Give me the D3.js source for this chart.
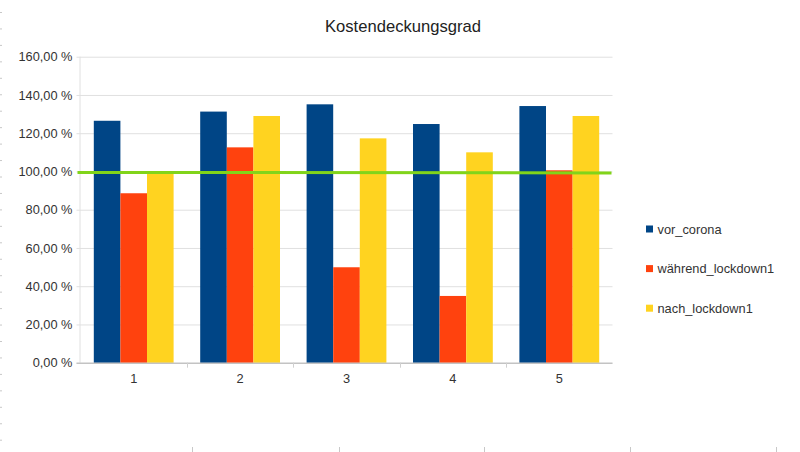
<!DOCTYPE html>
<html>
<head>
<meta charset="utf-8">
<script src="https://cdn.jsdelivr.net/npm/d3@7"></script>
<style>
  html, body { margin: 0; padding: 0; background: #ffffff; }
  svg { display: block; font-family: "Liberation Sans", Arial, sans-serif; }
</style>
</head>
<body>
<svg id="chart" width="800" height="452"></svg>
<script>
const categories = ["1", "2", "3", "4", "5"];
const seriesNames = ["vor_corona", "während_lockdown1", "nach_lockdown1"];
const vorCorona = [126.5, 131.3, 135.1, 124.8, 134.2];
const waehrendLockdown1 = [88.6, 112.6, 49.9, 34.9, 100.6];
const nachLockdown1 = [99.0, 129.0, 117.3, 110.0, 129.0];
const referenceLine = [99.5, 99.2]; // green line, start and end value
const yTicks = [0, 20, 40, 60, 80, 100, 120, 140, 160];
const title = "Kostendeckungsgrad";
const colors = ["#004586", "#ff420e", "#ffd320"];
const lineColor = "#81d41a";

const seriesValues = [vorCorona, waehrendLockdown1, nachLockdown1];
const FS = 12.8;

const svg = d3.select("#chart");
const plot = { left: 80.5, right: 612.5, top: 56.7, bottom: 362.7 };

const x = d3.scaleBand().domain(categories).range([plot.left, plot.right]).paddingInner(0.25).paddingOuter(0.125);
const xCat = d3.scaleBand().domain(categories).range([plot.left, plot.right]);
const xs = d3.scaleBand().domain(seriesNames).range([0, x.bandwidth()]);
const y = d3.scaleLinear().domain([0, 160]).range([plot.bottom, plot.top]);

// faint sheet marks at the left edge and bottom
const leftMarks = d3.range(0, 27).map(k => 12.5 + 16.45 * k);
svg.append("g").selectAll("line").data(leftMarks).join("line")
  .attr("x1", 0).attr("x2", 2).attr("y1", d => d).attr("y2", d => d)
  .attr("stroke", "#c8c8c8").attr("stroke-width", 1);
const bottomMarks = [192.5, 339.5, 484.5, 630.5, 776.5];
svg.append("g").selectAll("line").data(bottomMarks).join("line")
  .attr("x1", d => d).attr("x2", d => d).attr("y1", 447).attr("y2", 452)
  .attr("stroke", "#c8c8c8").attr("stroke-width", 1);

// title
svg.append("text").attr("x", 403).attr("y", 32).attr("text-anchor", "middle")
  .attr("font-size", 16.6).attr("fill", "#222").text(title);

// gridlines + y axis
const yAxis = d3.axisLeft(y).tickValues(yTicks).tickSize(plot.right - plot.left + 4)
  .tickFormat(d => d3.format(".2f")(d).replace(".", ",") + " %");
const gy = svg.append("g").attr("transform", `translate(${plot.right},0)`).call(yAxis);
gy.select(".domain").remove();
gy.selectAll(".tick line").attr("stroke", "#e0e0e0");
gy.selectAll(".tick text").attr("x", -(plot.right - plot.left + 8)).attr("font-size", FS)
  .attr("fill", "#333").attr("font-family", "Liberation Sans, Arial, sans-serif");

// left axis line
svg.append("line").attr("x1", plot.left - 0.5).attr("x2", plot.left - 0.5)
  .attr("y1", plot.top).attr("y2", plot.bottom).attr("stroke", "#e0e0e0");

// bars
const groups = svg.append("g").selectAll("g").data(seriesNames).join("g")
  .attr("fill", (d, i) => colors[i]);
groups.selectAll("rect").data((s, i) => categories.map((c, j) => ({ c, s, v: seriesValues[i][j] })))
  .join("rect")
  .attr("x", d => x(d.c) + xs(d.s))
  .attr("width", xs.bandwidth())
  .attr("y", d => y(d.v))
  .attr("height", d => y(0) - y(d.v));

// x axis
const xAxis = d3.axisBottom(xCat).tickSize(0).tickSizeOuter(0);
const gx = svg.append("g").attr("transform", `translate(0,${plot.bottom})`).call(xAxis);
gx.select(".domain").attr("stroke", "#b3b3b3").attr("d", `M${plot.left - 4},0.5H${plot.right}`);
gx.selectAll(".tick text").attr("font-size", FS).attr("fill", "#333").attr("dy", "1.35em")
  .attr("font-family", "Liberation Sans, Arial, sans-serif");
// category boundary ticks
svg.append("g").selectAll("line").data(categories.slice(1)).join("line")
  .attr("x1", d => Math.round(xCat(d)) + 0.5).attr("x2", d => Math.round(xCat(d)) + 0.5)
  .attr("y1", plot.bottom).attr("y2", plot.bottom + 5).attr("stroke", "#d0d0d0");

// green reference line
svg.append("line")
  .attr("x1", plot.left - 3).attr("x2", plot.right - 1)
  .attr("y1", y(referenceLine[0])).attr("y2", y(referenceLine[1]))
  .attr("stroke", lineColor).attr("stroke-width", 3);

// legend
const legend = svg.append("g").selectAll("g").data(seriesNames).join("g")
  .attr("transform", (d, i) => `translate(646,${229 + i * 39.6})`);
legend.append("rect").attr("x", 0).attr("y", -3.5).attr("width", 7).attr("height", 7)
  .attr("fill", (d, i) => colors[i]);
legend.append("text").attr("x", 11.5).attr("y", 4.5).attr("font-size", FS).attr("fill", "#333")
  .text(d => d);
</script>
</body>
</html>
